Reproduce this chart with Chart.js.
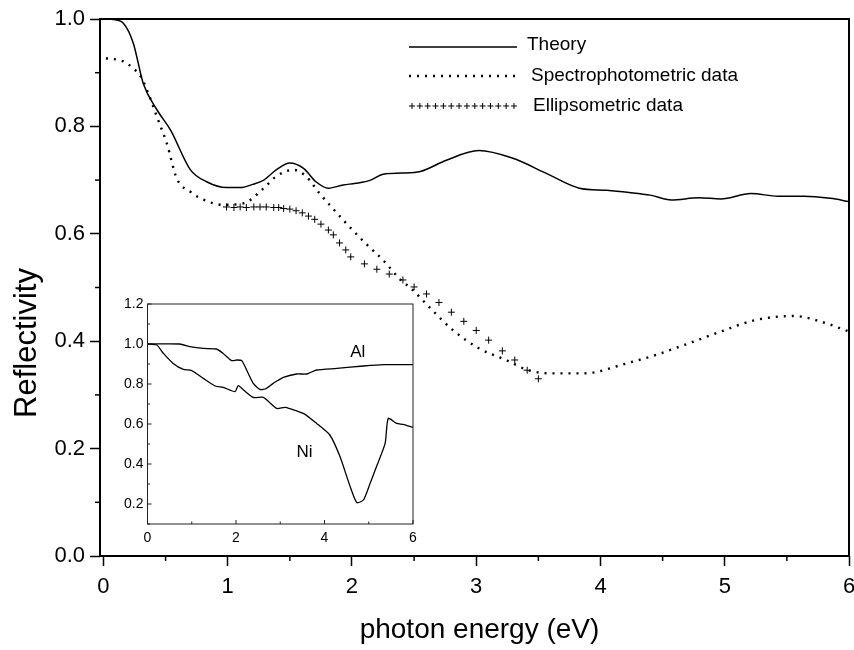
<!DOCTYPE html>
<html><head><meta charset="utf-8">
<script src="https://cdn.jsdelivr.net/npm/chart.js@4/dist/chart.umd.min.js"></script>
<style>
html,body{margin:0;padding:0;background:#fff;}
#wrap{position:relative;width:854px;height:650px;overflow:hidden;}
#main{position:absolute;left:0;top:0;}
#inset{position:absolute;left:100px;top:280px;}
</style></head><body>
<div id="wrap"><canvas id="main" width="854" height="650"></canvas><canvas id="inset" width="340" height="280"></canvas></div>
<script>
// ---- main chart data ----
const theoryX = [0, 0.08, 0.16, 0.24, 0.32, 0.43, 0.54, 0.70, 0.83, 0.99, 1.10, 1.20, 1.29, 1.39, 1.50, 1.61, 1.71, 1.81, 1.93, 2.03, 2.15, 2.25, 2.40, 2.55, 2.76, 3.02, 3.29, 3.56, 3.83, 4.05, 4.23, 4.40, 4.57, 4.79, 4.97, 5.21, 5.43, 5.64, 5.85, 6.0];
const theoryY = [1.0, 0.999, 0.992, 0.955, 0.880, 0.831, 0.793, 0.719, 0.697, 0.686, 0.686, 0.692, 0.700, 0.719, 0.732, 0.722, 0.697, 0.685, 0.691, 0.694, 0.700, 0.711, 0.713, 0.716, 0.737, 0.755, 0.741, 0.713, 0.685, 0.681, 0.677, 0.672, 0.663, 0.667, 0.665, 0.675, 0.670, 0.670, 0.666, 0.660];
const spectroX = [0.02, 0.16, 0.24, 0.30, 0.36, 0.43, 0.51, 0.59, 0.70, 0.80, 0.96, 1.13, 1.29, 1.39, 1.53, 1.63, 1.74, 1.87, 1.98, 2.11, 2.25, 2.38, 2.49, 2.62, 2.81, 3.02, 3.24, 3.42, 3.61, 3.83, 3.95, 4.17, 4.44, 4.71, 4.97, 5.24, 5.56, 5.78, 6.0];
const spectroY = [0.927, 0.921, 0.908, 0.893, 0.862, 0.818, 0.768, 0.703, 0.678, 0.664, 0.654, 0.657, 0.685, 0.707, 0.719, 0.707, 0.675, 0.641, 0.613, 0.582, 0.551, 0.517, 0.495, 0.464, 0.421, 0.387, 0.365, 0.346, 0.340, 0.340, 0.342, 0.356, 0.374, 0.396, 0.418, 0.439, 0.447, 0.436, 0.418];
const ellipsoX = [0.99, 1.05, 1.10, 1.15, 1.21, 1.26, 1.31, 1.37, 1.41, 1.45, 1.50, 1.55, 1.60, 1.65, 1.70, 1.75, 1.81, 1.85, 1.90, 1.95, 1.99, 2.10, 2.20, 2.30, 2.41, 2.50, 2.60, 2.70, 2.80, 2.90, 3.00, 3.10, 3.21, 3.31, 3.41, 3.50];
const ellipsoY = [0.650, 0.649, 0.650, 0.649, 0.650, 0.650, 0.650, 0.649, 0.649, 0.647, 0.646, 0.643, 0.639, 0.633, 0.627, 0.618, 0.607, 0.598, 0.583, 0.570, 0.557, 0.544, 0.534, 0.525, 0.514, 0.501, 0.488, 0.472, 0.454, 0.437, 0.420, 0.402, 0.382, 0.365, 0.346, 0.330];
const seriesNames = ["Theory", "Spectrophotometric data", "Ellipsometric data"];
const xTitle = "photon energy (eV)";
const yTitle = "Reflectivity";
// ---- inset data ----
const alX = [0, 0.73, 0.96, 1.26, 1.56, 1.71, 1.90, 2.02, 2.13, 2.24, 2.39, 2.54, 2.66, 2.84, 3.07, 3.37, 3.60, 3.82, 4.28, 4.88, 5.33, 6.0];
const alY = [1.0, 1.0, 0.987, 0.978, 0.975, 0.953, 0.917, 0.92, 0.917, 0.87, 0.803, 0.773, 0.775, 0.803, 0.833, 0.85, 0.85, 0.87, 0.878, 0.89, 0.897, 0.897];
const niX = [0, 0.21, 0.36, 0.58, 0.81, 1.0, 1.26, 1.53, 1.71, 1.98, 2.05, 2.17, 2.39, 2.62, 2.92, 3.11, 3.52, 3.82, 4.12, 4.35, 4.58, 4.73, 4.88, 5.03, 5.18, 5.37, 5.44, 5.63, 5.78, 6.0];
const niY = [1.0, 0.995, 0.953, 0.903, 0.873, 0.867, 0.828, 0.79, 0.783, 0.762, 0.792, 0.77, 0.733, 0.733, 0.678, 0.683, 0.653, 0.603, 0.545, 0.437, 0.287, 0.207, 0.22, 0.303, 0.39, 0.503, 0.628, 0.603, 0.598, 0.583];
const insetLabels = [{text: "Al", x: 4.75, y: 0.96}, {text: "Ni", x: 3.55, y: 0.46}];

const pts = (xs, ys) => xs.map((x, i) => ({x, y: ys[i]}));
const FONT = "'Liberation Sans', Arial, Helvetica, sans-serif";
Chart.defaults.font.family = FONT;
Chart.defaults.color = '#000';

const isInt = v => Math.abs(v - Math.round(v)) < 1e-6;
const isEvenTenth = v => Math.round(v * 10) % 2 === 0;

const frameAndMinor = {
  id: 'frameAndMinor',
  afterDraw(chart) {
    const ctx = chart.ctx;
    const {left, right, top, bottom} = chart.chartArea;
    const xs = chart.scales.x, ys = chart.scales.y;
    ctx.save();
    ctx.strokeStyle = '#000';
    ctx.lineWidth = 1.5;
    xs.ticks.forEach(t => {
      if (!isInt(t.value)) {
        const p = xs.getPixelForValue(t.value);
        ctx.beginPath(); ctx.moveTo(p, bottom); ctx.lineTo(p, bottom + 5); ctx.stroke();
      }
    });
    ys.ticks.forEach(t => {
      if (!isEvenTenth(t.value)) {
        const p = ys.getPixelForValue(t.value);
        ctx.beginPath(); ctx.moveTo(left, p); ctx.lineTo(left - 5, p); ctx.stroke();
      }
    });
    ctx.lineWidth = 2;
    ctx.strokeRect(left, top, right - left, bottom - top);
    // axis titles
    ctx.fillStyle = '#000';
    ctx.textAlign = 'center';
    ctx.textBaseline = 'middle';
    ctx.font = '28px ' + FONT;
    ctx.fillText(xTitle, (left + right) / 2 + 5, bottom + 74);
    ctx.save();
    ctx.translate(27, top + 324);
    ctx.rotate(-Math.PI / 2);
    ctx.font = '31px ' + FONT;
    ctx.fillText(yTitle, 0, 0);
    ctx.restore();
    // legend
    const lx0 = left + 309, lx1 = left + 417, tx = left + 423;
    const rows = [top + 28, top + 57, top + 87];
    ctx.font = '19px ' + FONT;
    ctx.textAlign = 'left';
    ctx.lineWidth = 1.6;
    ctx.beginPath(); ctx.moveTo(lx0, rows[0]); ctx.lineTo(lx1, rows[0]); ctx.stroke();
    ctx.fillText(seriesNames[0], tx + 4, rows[0] - 2);
    ctx.setLineDash([2, 6]);
    ctx.lineWidth = 2.4;
    ctx.beginPath(); ctx.moveTo(lx0, rows[1]); ctx.lineTo(lx1, rows[1]); ctx.stroke();
    ctx.setLineDash([]);
    ctx.fillText(seriesNames[1], tx + 8, rows[1]);
    ctx.lineWidth = 1;
    const n = 14;
    for (let i = 0; i < n; i++) {
      const cx = lx0 + 3 + i * (lx1 - lx0 - 6) / (n - 1);
      ctx.beginPath();
      ctx.moveTo(cx - 3, rows[2]); ctx.lineTo(cx + 3, rows[2]);
      ctx.moveTo(cx, rows[2] - 3); ctx.lineTo(cx, rows[2] + 3);
      ctx.stroke();
    }
    ctx.fillText(seriesNames[2], tx + 10, rows[2]);
    ctx.restore();
  }
};

new Chart(document.getElementById('main'), {
  type: 'line',
  data: {
    datasets: [
      {label: seriesNames[0], data: pts(theoryX, theoryY), borderColor: '#000', borderWidth: 1.5, pointRadius: 0, cubicInterpolationMode: 'monotone', fill: false},
      {label: seriesNames[1], data: pts(spectroX, spectroY), borderColor: '#000', borderWidth: 2.4, borderDash: [2, 6], pointRadius: 0, cubicInterpolationMode: 'monotone', fill: false},
      {label: seriesNames[2], data: pts(ellipsoX, ellipsoY), showLine: false, pointStyle: 'cross', pointRadius: 3.5, pointBorderWidth: 1, borderColor: '#000', pointBorderColor: '#000'}
    ]
  },
  options: {
    responsive: false, animation: false, devicePixelRatio: 1,
    layout: {padding: {left: 0, top: 19, right: 2.5, bottom: 0}},
    plugins: {legend: {display: false}, tooltip: {enabled: false}},
    scales: {
      x: {
        type: 'linear', min: -0.028, max: 6,
        afterBuildTicks: s => { const t = []; for (let i = 0; i <= 12; i++) t.push({value: i / 2}); s.ticks = t; },
        afterFit: s => { s.height = 94; s.paddingLeft = 0; s.paddingRight = 0; },
        ticks: {autoSkip: false, maxRotation: 0, padding: 8, font: {size: 22}, callback: v => isInt(v) ? String(Math.round(v)) : ''},
        grid: {drawOnChartArea: false, drawTicks: true, tickLength: 10, tickWidth: 1.5, tickColor: c => isInt(c.tick.value) ? '#000' : 'rgba(0,0,0,0)'},
        border: {display: false},
        title: {display: false}
      },
      y: {
        type: 'linear', min: 0, max: 1,
        afterBuildTicks: s => { const t = []; for (let i = 0; i <= 10; i++) t.push({value: i / 10}); s.ticks = t; },
        afterFit: s => { s.width = 100; s.paddingTop = 0; s.paddingBottom = 0; },
        ticks: {autoSkip: false, padding: 5, font: {size: 22}, callback: v => isEvenTenth(v) ? v.toFixed(1) : ''},
        grid: {drawOnChartArea: false, drawTicks: true, tickLength: 10, tickWidth: 1.5, tickColor: c => isEvenTenth(c.tick.value) ? '#000' : 'rgba(0,0,0,0)'},
        border: {display: false},
        title: {display: false}
      }
    }
  },
  plugins: [frameAndMinor]
});

const insetDecor = {
  id: 'insetDecor',
  afterDraw(chart) {
    const ctx = chart.ctx;
    const {left, right, top, bottom} = chart.chartArea;
    const xs = chart.scales.x, ys = chart.scales.y;
    ctx.save();
    ctx.strokeStyle = '#222';
    ctx.lineWidth = 1;
    ctx.strokeRect(left, top, right - left, bottom - top);
    xs.ticks.forEach(t => {
      const p = xs.getPixelForValue(t.value);
      const L = Math.round(t.value) % 2 === 0 ? 4 : 2.5;
      ctx.beginPath(); ctx.moveTo(p, bottom); ctx.lineTo(p, bottom - L); ctx.stroke();
    });
    ys.ticks.forEach(t => {
      const p = ys.getPixelForValue(t.value);
      const L = isEvenTenth(t.value) ? 4 : 2.5;
      ctx.beginPath(); ctx.moveTo(left, p); ctx.lineTo(left + L, p); ctx.stroke();
    });
    ctx.font = '17px ' + FONT;
    ctx.fillStyle = '#000';
    ctx.textAlign = 'center';
    ctx.textBaseline = 'middle';
    insetLabels.forEach(l => ctx.fillText(l.text, xs.getPixelForValue(l.x), ys.getPixelForValue(l.y)));
    ctx.restore();
  }
};

new Chart(document.getElementById('inset'), {
  type: 'line',
  data: {
    datasets: [
      {label: 'Al', data: pts(alX, alY), borderColor: '#000', borderWidth: 1.3, pointRadius: 0, tension: 0.2, fill: false},
      {label: 'Ni', data: pts(niX, niY), borderColor: '#000', borderWidth: 1.3, pointRadius: 0, tension: 0.2, fill: false}
    ]
  },
  options: {
    responsive: false, animation: false, devicePixelRatio: 1,
    layout: {padding: {left: 0, top: 24, right: 27, bottom: 0}},
    plugins: {legend: {display: false}, tooltip: {enabled: false}},
    scales: {
      x: {
        type: 'linear', min: 0, max: 6,
        afterBuildTicks: s => { const t = []; for (let i = 0; i <= 6; i++) t.push({value: i}); s.ticks = t; },
        afterFit: s => { s.height = 36; s.paddingLeft = 0; s.paddingRight = 0; },
        ticks: {autoSkip: false, maxRotation: 0, padding: 6, font: {size: 14}, callback: v => Math.round(v) % 2 === 0 ? String(Math.round(v)) : ''},
        grid: {display: false, drawTicks: false},
        border: {display: false}
      },
      y: {
        type: 'linear', min: 0.1, max: 1.2,
        afterBuildTicks: s => { const t = []; for (let i = 1; i <= 12; i++) t.push({value: i / 10}); s.ticks = t; },
        afterFit: s => { s.width = 47.5; s.paddingTop = 0; s.paddingBottom = 0; },
        ticks: {autoSkip: false, padding: 4, font: {size: 14}, callback: v => isEvenTenth(v) ? v.toFixed(1) : ''},
        grid: {display: false, drawTicks: false},
        border: {display: false}
      }
    }
  },
  plugins: [insetDecor]
});
</script>
</body></html>
